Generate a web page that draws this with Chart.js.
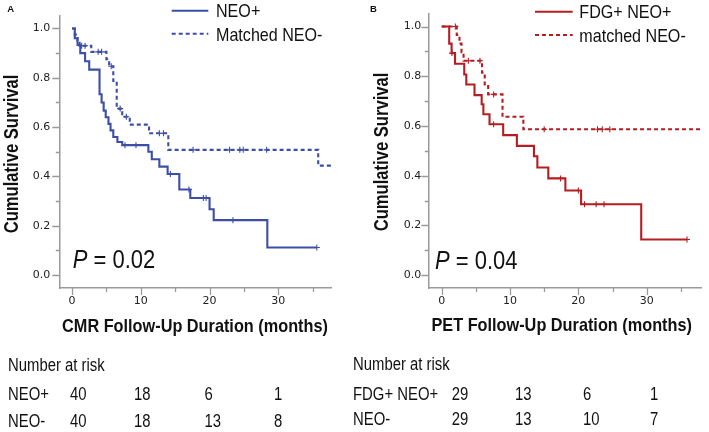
<!DOCTYPE html>
<html><head><meta charset="utf-8">
<script src="https://cdn.jsdelivr.net/npm/chart.js@4/dist/chart.umd.min.js"></script>
<style>
html,body{margin:0;padding:0;background:#fff;width:709px;height:432px;overflow:hidden}
#wrapA{position:absolute;left:0;top:0;width:354px;height:432px}
#wrapB{position:absolute;left:354px;top:0;width:355px;height:432px}
</style></head><body>
<div id="wrapA"><canvas id="cA" width="354" height="432"></canvas></div>
<div id="wrapB"><canvas id="cB" width="355" height="432"></canvas></div>
<script>
// ---------- ticks ----------
const xTickValues = [0, 10, 20, 30];
const xMinorValues = [5, 15, 25, 35];
const yTickValues = [0, 0.2, 0.4, 0.6, 0.8, 1.0];
const yMinorValues = [0.1, 0.3, 0.5, 0.7, 0.9];

// ---------- Panel A (CMR) ----------
const neoPlusTimesA = [0, 0.4, 0.8, 1.2, 1.9, 2.5, 4.0, 4.3, 4.6, 4.9, 5.3, 5.6, 6.0, 6.6, 7.3, 11.1, 11.6, 12.7, 13.9, 15.6, 17.2, 20.0, 20.6, 28.4];
const neoPlusSurvA  = [1.0, 0.96, 0.933, 0.90, 0.867, 0.833, 0.733, 0.70, 0.667, 0.64, 0.613, 0.587, 0.56, 0.54, 0.527, 0.50, 0.47, 0.44, 0.41, 0.347, 0.313, 0.267, 0.223, 0.112];
const neoPlusEndA = 35.6;
const neoPlusCensorA = [7.7, 9.3, 14.3, 17.0, 19.1, 19.5, 23.4, 35.6];

const neoMinusTimesA = [0, 0.4, 0.8, 1.1, 2.8, 5.0, 5.4, 6.0, 6.5, 7.3, 8.4, 11.2, 14.0, 35.8];
const neoMinusSurvA  = [1.0, 0.975, 0.95, 0.93, 0.905, 0.875, 0.847, 0.787, 0.675, 0.642, 0.61, 0.575, 0.508, 0.444];
const neoMinusEndA = 37.8;
const neoMinusCensorA = [1.4, 1.9, 3.8, 4.3, 5.7, 7.0, 7.9, 12.7, 13.3, 17.6, 22.9, 24.4, 24.9, 28.3];

// ---------- Panel B (PET) ----------
const fdgTimesB = [0, 1.1, 1.45, 1.95, 3.3, 3.6, 4.8, 5.85, 6.1, 7.0, 9.0, 11.0, 13.5, 14.0, 15.6, 18.1, 20.4, 29.2];
const fdgSurvB  = [1.0, 0.931, 0.893, 0.85, 0.807, 0.767, 0.724, 0.687, 0.647, 0.607, 0.563, 0.52, 0.478, 0.433, 0.389, 0.34, 0.285, 0.143];
const fdgEndB = 35.9;
const fdgCensorB = [1.5, 7.6, 17.4, 20.0, 20.9, 22.6, 23.75, 35.9];

const negTimesB = [0, 2.2, 2.6, 2.9, 3.2, 5.9, 6.3, 6.8, 8.9, 11.95];
const negSurvB  = [1.0, 0.966, 0.931, 0.897, 0.862, 0.814, 0.767, 0.727, 0.637, 0.587];
const negEndB = 38.1;
const negCensorB = [2.0, 3.9, 5.6, 7.6, 15.0, 22.8, 23.5, 24.6];

// ---------- Number at risk ----------
const riskTimes = [0, 10, 20, 30];
const riskA1 = [40, 18, 6, 1];
const riskA2 = [40, 18, 13, 8];
const riskB1 = [29, 13, 6, 1];
const riskB2 = [29, 13, 10, 7];

// ---------- texts ----------
const legendA = ['NEO+', 'Matched NEO-'];
const legendB = ['FDG+ NEO+', 'matched NEO-'];
const rowLabelsA = ['NEO+', 'NEO-'];
const rowLabelsB = ['FDG+ NEO+', 'NEO-'];
const xTitleA = 'CMR Follow-Up Duration (months)';
const xTitleB = 'PET Follow-Up Duration (months)';
const yTitle = 'Cumulative Survival';
const riskTitle = 'Number at risk';
const pValueA = '0.02';
const pValueB = '0.04';
const panelA = 'A', panelB = 'B';

// ---------- helpers ----------
function stepData(times, surv, end) {
  const d = times.map((t, i) => ({x: t, y: surv[i]}));
  d.push({x: end, y: surv[surv.length - 1]});
  return d;
}
function survAt(times, surv, c) {
  let s = surv[0];
  for (let i = 0; i < times.length; i++) if (times[i] <= c) s = surv[i];
  return s;
}
function censorData(times, surv, cens) {
  return cens.map(c => ({x: c, y: survAt(times, surv, c)}));
}
const SANS = '"Liberation Sans", Arial, sans-serif';
function txt(ctx, s, x, y, font, hs, align, color) {
  ctx.save();
  ctx.font = font;
  ctx.fillStyle = color || '#111';
  ctx.textBaseline = 'alphabetic';
  ctx.textAlign = align || 'left';
  ctx.translate(x, y);
  ctx.scale(hs, 1);
  ctx.fillText(s, 0, 0);
  ctx.restore();
}
function measure(ctx, s, font, hs) { ctx.save(); ctx.font = font; const w = ctx.measureText(s).width * hs; ctx.restore(); return w; }

function decor(o) {
  return {
    id: 'decor',
    afterDraw(chart) {
      const ctx = chart.ctx, xs = chart.scales.x, ys = chart.scales.y, a = chart.chartArea;
      const ox = o.ox;
      ctx.save();
      ctx.strokeStyle = '#9a9a9a';
      ctx.lineWidth = 1.3;
      ctx.beginPath();
      yTickValues.forEach(v => { const y = Math.round(ys.getPixelForValue(v)) + 0.5; ctx.moveTo(a.left - 7, y); ctx.lineTo(a.left, y); });
      yMinorValues.forEach(v => { const y = Math.round(ys.getPixelForValue(v)) + 0.5; ctx.moveTo(a.left - 3.5, y); ctx.lineTo(a.left, y); });
      xTickValues.forEach(v => { const x = Math.round(xs.getPixelForValue(v)) + 0.5; ctx.moveTo(x, a.bottom); ctx.lineTo(x, a.bottom + 7); });
      xMinorValues.forEach(v => { const x = Math.round(xs.getPixelForValue(v)) + 0.5; ctx.moveTo(x, a.bottom); ctx.lineTo(x, a.bottom + 4); });
      ctx.stroke();
      ctx.restore();

      // panel letter
      txt(ctx, o.letter, o.letterX - ox, 11.7, 'bold 9.5px ' + SANS, 1, 'left', '#111');

      // legend
      ctx.save();
      ctx.strokeStyle = o.color; ctx.lineWidth = 2;
      ctx.beginPath(); ctx.moveTo(o.legLineX0 - ox, o.legY[0]); ctx.lineTo(o.legLineX1 - ox, o.legY[0]); ctx.stroke();
      ctx.setLineDash([4, 3]);
      ctx.beginPath(); ctx.moveTo(o.legLineX0 - ox, o.legY[1]); ctx.lineTo(o.legLineX1 - ox, o.legY[1]); ctx.stroke();
      ctx.restore();
      txt(ctx, o.legend[0], o.legTextX - ox, o.legBase[0], '18.5px ' + SANS, 0.87, 'left', '#111');
      txt(ctx, o.legend[1], o.legTextX - ox, o.legBase[1], '18.5px ' + SANS, 0.87, 'left', '#111');

      // P value
      const pf = '25px ' + SANS;
      txt(ctx, 'P', o.pX - ox, o.pBase, 'italic ' + pf, 0.88, 'left', '#111');
      const wP = measure(ctx, 'P', 'italic ' + pf, 0.88);
      txt(ctx, ' = ' + o.p, o.pX - ox + wP, o.pBase, pf, 0.88, 'left', '#111');

      // y title
      ctx.save();
      ctx.translate(o.yTitleX - ox, o.yTitleY);
      ctx.rotate(-Math.PI / 2);
      ctx.scale(0.83, 1);
      ctx.font = 'bold 20px ' + SANS; ctx.fillStyle = '#111';
      ctx.textAlign = 'center'; ctx.textBaseline = 'alphabetic';
      ctx.fillText(yTitle, 0, 0);
      ctx.restore();

      // x title
      txt(ctx, o.xTitle, o.xTitleX - ox, o.xTitleBase, 'bold 18.5px ' + SANS, 0.88, 'center', '#111');

      // risk table
      const tf = '17.5px ' + SANS;
      txt(ctx, riskTitle, o.tabX - ox, o.tabBase[0], tf, 0.85, 'left', '#111');
      o.rowLabels.forEach((lab, r) => txt(ctx, lab, o.tabX - ox, o.tabBase[r + 1], tf, 0.85, 'left', '#111'));
      [o.risk1, o.risk2].forEach((row, r) => {
        row.forEach((n, i) => {
          const x = xs.getPixelForValue(riskTimes[i]) + o.colOff[i];
          txt(ctx, String(n), x, o.tabBase[r + 1], tf, 0.85, 'left', '#111');
        });
      });
    }
  };
}

function makePanel(id, o) {
  const lineBase = {showLine: true, stepped: true, borderColor: o.color, borderWidth: 2.1, pointRadius: 0, fill: false};
  const censBase = {showLine: false, pointStyle: 'cross', pointRadius: 3, borderColor: o.color, backgroundColor: o.color, borderWidth: 1.1};
  return new Chart(document.getElementById(id), {
    type: 'scatter',
    data: {datasets: [
      Object.assign({label: o.legend[0], data: o.solid}, lineBase),
      Object.assign({label: o.legend[1], data: o.dashed, borderDash: [4, 3]}, lineBase),
      Object.assign({label: 'c1', data: o.cens1}, censBase),
      Object.assign({label: 'c2', data: o.cens2}, censBase)
    ]},
    options: {
      responsive: false, animation: false, events: [],
      layout: {padding: {left: 0, right: o.padRight, top: 12, bottom: 124}},
      plugins: {legend: {display: false}, tooltip: {enabled: false}},
      scales: {
        x: {
          type: 'linear', min: o.xmin, max: o.xmax,
          afterBuildTicks: s => { s.ticks = xTickValues.map(v => ({value: v})); },
          afterFit: s => { s.height = 20; },
          grid: {drawOnChartArea: false, drawTicks: false},
          border: {color: '#9a9a9a', width: 1.5},
          ticks: {padding: 7, autoSkip: false, maxRotation: 0, color: '#222', font: {family: 'DejaVu Sans', size: 11}, callback: v => String(v)}
        },
        y: {
          type: 'linear', min: -0.052, max: 1.052,
          afterBuildTicks: s => { s.ticks = yTickValues.map(v => ({value: v})); },
          afterFit: s => { s.width = o.yWidth; },
          grid: {drawOnChartArea: false, drawTicks: false},
          border: {color: '#9a9a9a', width: 1.5},
          ticks: {padding: o.yPad, autoSkip: false, color: '#222', font: {family: 'DejaVu Sans', size: 11}, callback: v => Number(v).toFixed(1)}
        }
      }
    },
    plugins: [decor(o)]
  });
}

makePanel('cA', {
  ox: 0, color: '#3c4ea6',
  solid: stepData(neoPlusTimesA, neoPlusSurvA, neoPlusEndA),
  dashed: stepData(neoMinusTimesA, neoMinusSurvA, neoMinusEndA),
  cens1: censorData(neoPlusTimesA, neoPlusSurvA, neoPlusCensorA),
  cens2: censorData(neoMinusTimesA, neoMinusSurvA, neoMinusCensorA),
  xmin: -1.85, xmax: 37.76, yWidth: 59.3, padRight: 22.3, yPad: 9,
  legend: legendA, legLineX0: 171.7, legLineX1: 208.3, legY: [10.7, 33.7], legTextX: 216, legBase: [17.3, 40.7],
  letter: panelA, letterX: 7.3,
  p: pValueA, pX: 72.7, pBase: 268.3,
  yTitleX: 18.3, yTitleY: 154,
  xTitle: xTitleA, xTitleX: 195, xTitleBase: 331.7,
  tabX: 8, tabBase: [371, 400, 426.7], rowLabels: rowLabelsA,
  risk1: riskA1, risk2: riskA2, colOff: [-2, -6.7, -5, -4.3]
});

makePanel('cB', {
  ox: 354, color: '#b41e23',
  solid: stepData(fdgTimesB, fdgSurvB, fdgEndB),
  dashed: stepData(negTimesB, negSurvB, negEndB),
  cens1: censorData(fdgTimesB, fdgSurvB, fdgCensorB),
  cens2: censorData(negTimesB, negSurvB, negCensorB),
  xmin: -1.96, xmax: 38.05, yWidth: 74.3, padRight: 7.3, yPad: 7,
  legend: legendB, legLineX0: 535, legLineX1: 572.7, legY: [11.7, 35], legTextX: 579.3, legBase: [18.3, 41.7],
  letter: panelB, letterX: 370,
  p: pValueB, pX: 435, pBase: 269,
  yTitleX: 388.3, yTitleY: 152,
  xTitle: xTitleB, xTitleX: 561.7, xTitleBase: 331,
  tabX: 353, tabBase: [370, 400, 425], rowLabels: rowLabelsB,
  risk1: riskB1, risk2: riskB2, colOff: [10, 5, 4.7, 3.3]
});
</script>
</body></html>
